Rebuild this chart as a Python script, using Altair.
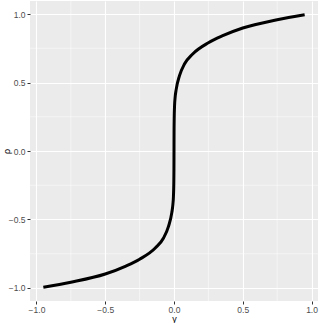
import altair as alt
import pandas as pd

gamma = [-0.95, -0.75, -0.5, -0.35, -0.25, -0.136, -0.076, -0.04, -0.016, -0.008,
         -0.004, -0.0015, -0.0004, 0.0, 0.0004, 0.0015, 0.004, 0.008, 0.016, 0.04,
         0.076, 0.136, 0.25, 0.35, 0.5, 0.75, 0.95]
rho = [-0.995, -0.958, -0.898, -0.84, -0.79, -0.708, -0.635, -0.55, -0.45, -0.39,
       -0.33, -0.24, -0.13, 0.0, 0.13, 0.24, 0.33, 0.39, 0.45, 0.55,
       0.635, 0.708, 0.79, 0.84, 0.898, 0.958, 0.995]

major_breaks = [-1.0, -0.5, 0.0, 0.5, 1.0]
minor_breaks = [-0.75, -0.25, 0.25, 0.75]

x_domain = [-1.047, 1.047]
y_domain = [-1.095, 1.095]

curve = pd.DataFrame({"gamma": gamma, "rho": rho})
minor = pd.DataFrame({"v": minor_breaks})

FONT = "Liberation Sans"

xscale = alt.Scale(domain=x_domain, nice=False, zero=False)
yscale = alt.Scale(domain=y_domain, nice=False, zero=False)

x_axis = alt.Axis(title="γ", values=major_breaks, format=".1f", labelPadding=1, titlePadding=1)
y_axis = alt.Axis(title="ρ", values=major_breaks, format=".1f", labelPadding=2,
                  titleX=-24, titleY=150, titleBaseline="middle", titleAlign="center", titleAngle=270)

line = alt.Chart(curve).mark_line(
    color="black", strokeWidth=3, interpolate="monotone", strokeCap="butt"
).encode(
    x=alt.X("gamma:Q", scale=xscale, axis=x_axis),
    y=alt.Y("rho:Q", scale=yscale, axis=y_axis),
    order=alt.Order("gamma:Q"),
)

minor_x = alt.Chart(minor).mark_rule(color="white", strokeWidth=0.5).encode(
    x=alt.X("v:Q", scale=xscale, axis=x_axis)
)
minor_y = alt.Chart(minor).mark_rule(color="white", strokeWidth=0.5).encode(
    y=alt.Y("v:Q", scale=yscale, axis=y_axis)
)

chart = alt.layer(minor_x, minor_y, line).properties(
    width=288, height=300,
    autosize=alt.AutoSizeParams(type="none"),
    padding={"left": 30, "right": 5, "top": 1, "bottom": 22},
).configure(background="white").configure_view(
    fill="#EBEBEB", stroke=None
).configure_axis(
    domain=False, grid=True, gridColor="white", gridWidth=1.1,
    tickColor="#333333", tickSize=3, tickWidth=1,
    labelColor="#4D4D4D", labelFontSize=8.5, labelFont=FONT,
    titleFont=FONT, titleFontSize=9, titleColor="#000000", titleFontWeight="normal",
)

chart.save("out.html", embed_options={"renderer": "svg", "actions": False})
